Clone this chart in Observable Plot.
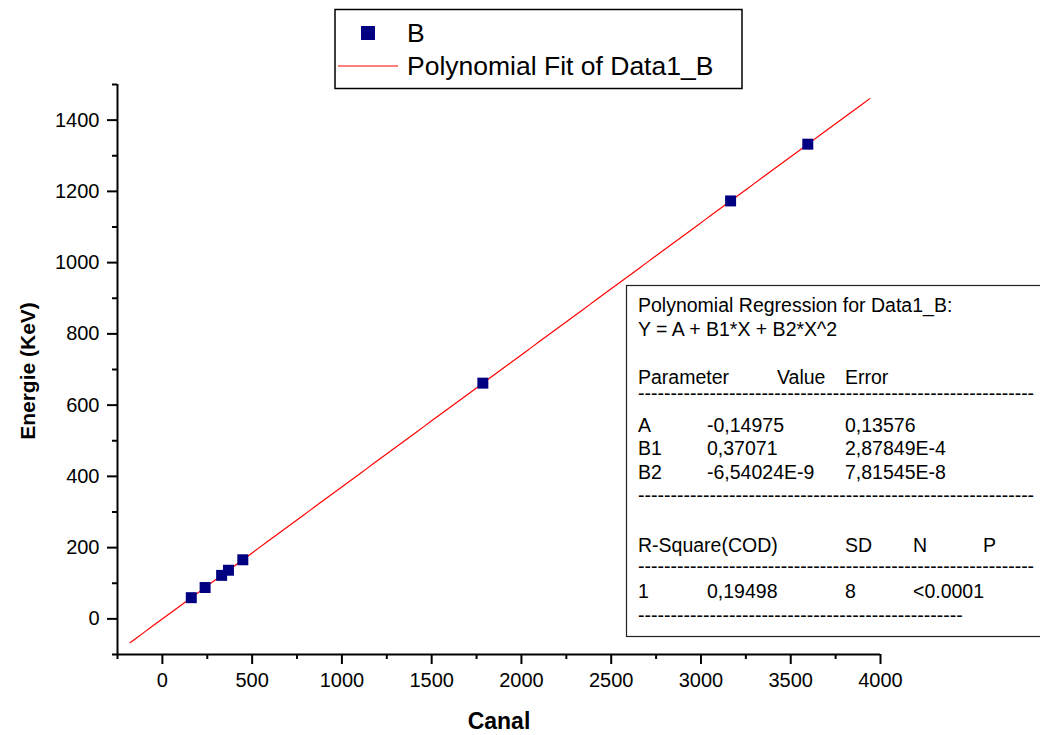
<!DOCTYPE html>
<html><head><meta charset="utf-8">
<script src="https://cdn.jsdelivr.net/npm/d3@7"></script>
<script src="https://cdn.jsdelivr.net/npm/@observablehq/plot@0.6"></script>
<style>
body{margin:0;background:#fff;}
#chart{position:relative;width:1040px;height:735px;}
</style></head><body><div id="chart"></div>
<script>
// ---- data ----
const canal   = [161, 238, 330, 368, 448, 1785, 3165, 3595];
const energie = [59.5, 88.0, 122.1, 136.5, 165.9, 661.7, 1173.2, 1332.5];
const fitA = -0.14975, fitB1 = 0.37071, fitB2 = -6.54024e-9;
const fitRange = [-180, 3940];
const xTicks = [0, 500, 1000, 1500, 2000, 2500, 3000, 3500, 4000];
const xMinorTicks = [-250, 250, 750, 1250, 1750, 2250, 2750, 3250, 3750];
const yTicks = [0, 200, 400, 600, 800, 1000, 1200, 1400];
const yMinorTicks = [-100, 100, 300, 500, 700, 900, 1100, 1300, 1500];
const xLabel = "Canal";
const yLabel = "Energie (KeV)";
const legendLabels = ["B", "Polynomial Fit of Data1_B"];
const boxTitle = ["Polynomial Regression for Data1_B:", "Y = A + B1*X + B2*X^2"];
const paramHeader = ["Parameter", "Value", "Error"];
const paramNames = ["A", "B1", "B2"];
const paramValues = ["-0,14975", "0,37071", "-6,54024E-9"];
const paramErrors = ["0,13576", "2,87849E-4", "7,81545E-8"];
const statHeader = ["R-Square(COD)", "SD", "N", "P"];
const statValues = ["1", "0,19498", "8", "<0.0001"];

const points = canal.map((c, i) => ({canal: c, energie: energie[i]}));
const fitX = d3.range(fitRange[0], fitRange[1] + 1, 40).concat([fitRange[1]]);
const fit = fitX.map(x => ({x, y: fitA + fitB1 * x + fitB2 * x * x}));

const FONT = "'Liberation Sans', Arial, Helvetica, sans-serif";
const fmt = d3.format("d");

const svg = Plot.plot({
  width: 1040, height: 735,
  marginLeft: 117, marginRight: 160, marginTop: 84, marginBottom: 81,
  style: {fontFamily: FONT, background: "#fff", color: "#000"},
  x: {domain: [-250, 4000], label: null},
  y: {domain: [-100, 1500], label: null},
  marks: [
    Plot.axisX(xTicks, {tickSize: 10, tickPadding: 8, fontSize: 20, strokeWidth: 2, tickFormat: fmt, label: null}),
    Plot.axisX(xMinorTicks, {tickSize: 5, strokeWidth: 2, tickFormat: () => "", label: null}),
    Plot.axisY(yTicks, {tickSize: 10, tickPadding: 8, fontSize: 20, strokeWidth: 2, tickFormat: fmt, label: null}),
    Plot.axisY(yMinorTicks, {tickSize: 5, strokeWidth: 2, tickFormat: () => "", label: null}),
    Plot.ruleY([-100], {stroke: "#000", strokeWidth: 2}),
    Plot.ruleX([-250], {stroke: "#000", strokeWidth: 2}),
    Plot.line(fit, {x: "x", y: "y", stroke: "#ff0000", strokeWidth: 1.2}),
    Plot.dot(points, {x: "canal", y: "energie", symbol: "square", r: 6.2, fill: "#000080", stroke: "none"})
  ]
});
document.getElementById("chart").appendChild(svg);

const s = d3.select(svg);
// axis titles
s.append("text").attr("x", 499).attr("y", 729).attr("text-anchor", "middle")
  .attr("font-family", FONT).attr("font-weight", "bold").attr("font-size", 23).text(xLabel);
s.append("text").attr("transform", "translate(35,371) rotate(-90)").attr("text-anchor", "middle")
  .attr("font-family", FONT).attr("font-weight", "bold").attr("font-size", 21).text(yLabel);

// legend
const lg = s.append("g").attr("font-family", FONT).attr("font-size", 26.5).attr("text-anchor", "start");
lg.append("rect").attr("x", 335).attr("y", 9.5).attr("width", 407).attr("height", 79)
  .attr("fill", "#fff").attr("stroke", "#000").attr("stroke-width", 1.5);
lg.append("rect").attr("x", 361).attr("y", 26).attr("width", 14).attr("height", 14).attr("fill", "#000080");
lg.append("text").attr("x", 407).attr("y", 42).text(legendLabels[0]);
lg.append("line").attr("x1", 338).attr("x2", 398).attr("y1", 66).attr("y2", 66)
  .attr("stroke", "#ff0000").attr("stroke-width", 1.2);
lg.append("text").attr("x", 407).attr("y", 75).text(legendLabels[1]);

// regression text box
const tb = s.append("g").attr("font-family", FONT).attr("font-size", 19.5).attr("text-anchor", "start");
tb.append("rect").attr("x", 626.5).attr("y", 285.5).attr("width", 430).attr("height", 351)
  .attr("fill", "#fff").attr("stroke", "#222").attr("stroke-width", 1.2);
const T = (x, y, t) => tb.append("text").attr("x", x).attr("y", y).text(t);
const dashes = n => "-".repeat(n);
T(638, 312, boxTitle[0]);
T(638, 336, boxTitle[1]);
T(638, 384, paramHeader[0]); T(777, 384, paramHeader[1]); T(845, 384, paramHeader[2]);
T(638, 400, dashes(61));
[432, 455, 479].forEach((y, i) => { T(638, y, paramNames[i]); T(707, y, paramValues[i]); T(845, y, paramErrors[i]); });
T(638, 502, dashes(61));
T(638, 552, statHeader[0]); T(845, 552, statHeader[1]); T(913, 552, statHeader[2]); T(983, 552, statHeader[3]);
T(638, 573, dashes(61));
T(638, 598, statValues[0]); T(707, 598, statValues[1]); T(845, 598, statValues[2]); T(913, 598, statValues[3]);
T(638, 622, dashes(50));
</script></body></html>
